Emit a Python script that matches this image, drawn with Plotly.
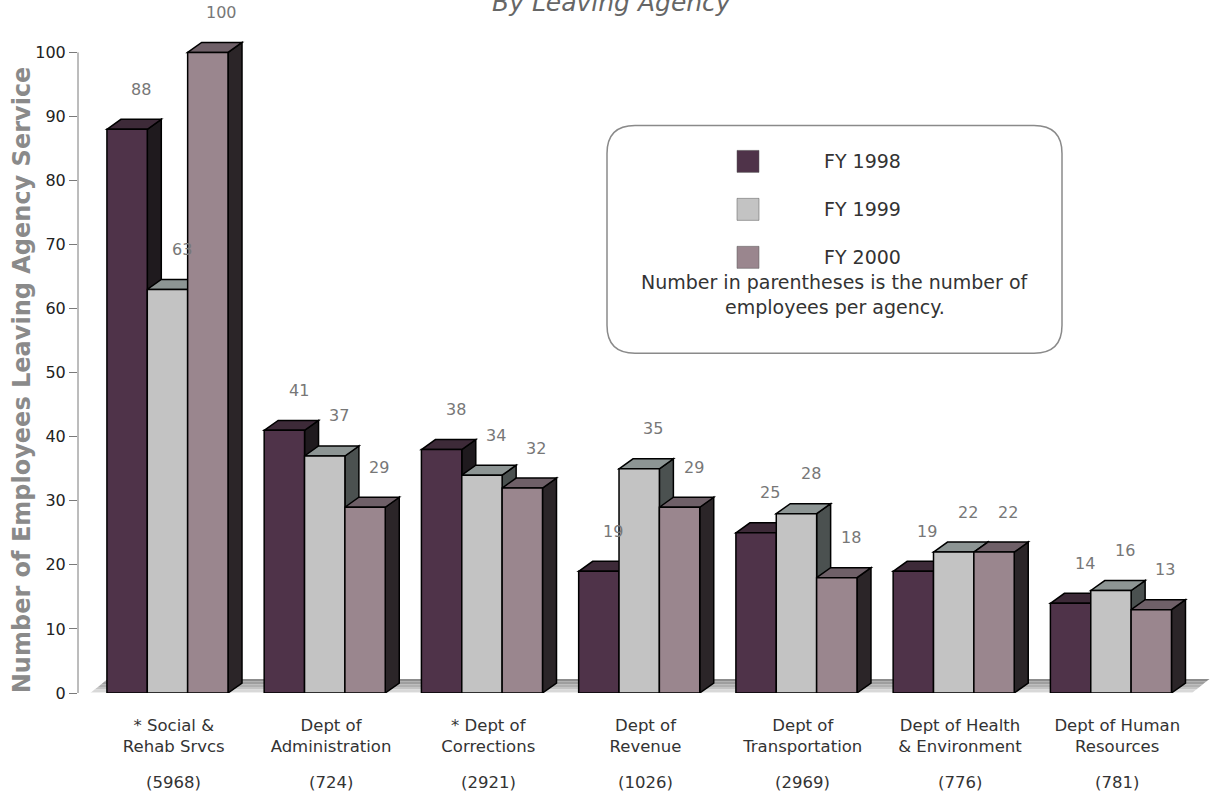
import plotly.graph_objects as go

# ---------------- data ----------------
agencies = ["* Social &<br>Rehab Srvcs", "Dept of<br>Administration", "* Dept of<br>Corrections",
            "Dept of<br>Revenue", "Dept of<br>Transportation", "Dept of Health<br>& Environment",
            "Dept of Human<br>Resources"]
employees = ["(5968)", "(724)", "(2921)", "(1026)", "(2969)", "(776)", "(781)"]
series_names = ["FY 1998", "FY 1999", "FY 2000"]
fy1998 = [88, 41, 38, 19, 25, 19, 14]
fy1999 = [63, 37, 34, 35, 28, 22, 16]
fy2000 = [100, 29, 32, 29, 18, 22, 13]
y_ticks = list(range(0, 101, 10))

series = [fy1998, fy1999, fy2000]
front = ["#4f3349", "#c3c3c3", "#9a868e"]
side = ["#1f1a1e", "#4b5150", "#2b2528"]
top = ["#3d2a38", "#8d9594", "#6f6068"]

# ---------------- geometry ----------------
W_PX, H_PX = 1216, 796
PL, PR, PT, PB = 78, 1210, 13.5, 693
X_RANGE = [-0.569, 6.63]
Y_RANGE = [0, 106]
bargap = 0.23
w = (1 - bargap) / 3
px_per_x = (PR - PL) / (X_RANGE[1] - X_RANGE[0])
px_per_y = (PB - PT) / (Y_RANGE[1] - Y_RANGE[0])
dx = 14 / px_per_x
dy = 10 / px_per_y


def px(xp):
    return (xp - PL) / (PR - PL)


def py(yp):
    return (PB - yp) / (PB - PT)


xs = list(range(len(agencies)))
label_x = [x + 0.04 for x in xs]
fig = go.Figure()
shapes = []

# floor (gradient bands)
floor_x0 = -0.506
floor_x1 = 6.5
fdx = 20 / px_per_x
fdy = 16 / px_per_y
grays = ["#8c8c8c", "#9e9e9e", "#b0b0b0", "#c4c4c4", "#d8d8d8", "#ebebeb"]
nb = len(grays)
for i, g in enumerate(grays):
    t0 = 1 - i / nb
    t1 = 1 - (i + 1) / nb
    xa0 = floor_x0 + fdx * t1
    xa1 = floor_x0 + fdx * t0
    xb0 = floor_x1 + fdx * t1
    xb1 = floor_x1 + fdx * t0
    ya = fdy * t1 - 0.3
    yb = fdy * t0 - 0.3
    shapes.append(dict(type="path", xref="x", yref="y", layer="below",
                       path=f"M {xa0},{ya} L {xb0},{ya} L {xb1},{yb} L {xa1},{yb} Z",
                       fillcolor=g, line=dict(width=0)))

# 3D side & top faces for each bar, drawn group by group, left to right
for gi in xs:
    for k in range(3):
        v = series[k][gi]
        c = gi + (k - 1) * w
        xl, xr = c - w / 2, c + w / 2
        shapes.append(dict(type="path", xref="x", yref="y", layer="below",
                           path=f"M {xr},0 L {xr+dx},{dy} L {xr+dx},{v+dy} L {xr},{v} Z",
                           fillcolor=side[k], line=dict(color="#000000", width=1.5)))
        shapes.append(dict(type="path", xref="x", yref="y", layer="below",
                           path=f"M {xl},{v} L {xl+dx},{v+dy} L {xr+dx},{v+dy} L {xr},{v} Z",
                           fillcolor=top[k], line=dict(color="#000000", width=1.5)))

# front faces
for k in range(3):
    fig.add_trace(go.Bar(x=xs, y=series[k], name=series_names[k], marker_color=front[k],
                         marker_line=dict(color="#000000", width=1.5), showlegend=False,
                         hoverinfo="skip"))

annotations = []
# value labels
for gi in xs:
    for k in range(3):
        v = series[k][gi]
        c = gi + (k - 1) * w
        annotations.append(dict(x=c + 0.09, y=v, xref="x", yref="y", text=str(v),
                                showarrow=False, yshift=40, yanchor="middle",
                                font=dict(family="DejaVu Sans", size=16, color="#777777")))

# employee counts under the category labels
for gi in xs:
    annotations.append(dict(x=label_x[gi], y=py(783), xref="x", yref="paper",
                            text=employees[gi], showarrow=False, yanchor="middle",
                            font=dict(family="DejaVu Sans", size=16.5, color="#333333")))

# y axis line (0..100)
shapes.append(dict(type="line", xref="paper", yref="y", x0=0, x1=0, y0=0, y1=100,
                   line=dict(color="#7a7a7a", width=1)))

# legend box
lx0, lx1, ly0, ly1, r = 607, 1062, 125, 353, 28
path = (f"M {px(lx0+r)},{py(ly0)} L {px(lx1-r)},{py(ly0)} Q {px(lx1)},{py(ly0)} {px(lx1)},{py(ly0+r)} "
        f"L {px(lx1)},{py(ly1-r)} Q {px(lx1)},{py(ly1)} {px(lx1-r)},{py(ly1)} "
        f"L {px(lx0+r)},{py(ly1)} Q {px(lx0)},{py(ly1)} {px(lx0)},{py(ly1-r)} "
        f"L {px(lx0)},{py(ly0+r)} Q {px(lx0)},{py(ly0)} {px(lx0+r)},{py(ly0)} Z")
shapes.append(dict(type="path", xref="paper", yref="paper", path=path, fillcolor="white",
                   line=dict(color="#8a8a8a", width=1.5), layer="above"))
leg_y = [161, 209, 257]
for k in range(3):
    shapes.append(dict(type="rect", xref="paper", yref="paper",
                       x0=px(737), x1=px(759), y0=py(leg_y[k] - 11), y1=py(leg_y[k] + 11),
                       fillcolor=front[k], line=dict(color="#555555", width=0.5), layer="above"))
    annotations.append(dict(x=px(822), y=py(leg_y[k]), xref="paper", yref="paper",
                            text=series_names[k], showarrow=False, xanchor="left", yanchor="middle",
                            font=dict(family="DejaVu Sans", size=19, color="#333333")))
annotations.append(dict(x=px(835), y=py(282), xref="paper", yref="paper",
                        text="Number in parentheses is the number of", showarrow=False,
                        xanchor="center", yanchor="middle",
                        font=dict(family="DejaVu Sans", size=19, color="#333333")))
annotations.append(dict(x=px(835), y=py(307), xref="paper", yref="paper",
                        text="employees per agency.", showarrow=False,
                        xanchor="center", yanchor="middle",
                        font=dict(family="DejaVu Sans", size=19, color="#333333")))

# y axis title
annotations.append(dict(x=px(22), y=py(380), xref="paper", yref="paper",
                        text="<b>Number of Employees Leaving Agency Service</b>", textangle=-90,
                        showarrow=False, xanchor="center", yanchor="middle",
                        font=dict(family="DejaVu Sans", size=24, color="#8a8a8a")))
# partially visible subtitle at top (its upper part lies outside the page, as in the reference)
annotations.append(dict(x=px(612), y=py(2), xref="paper", yref="paper",
                        text="<i>By Leaving Agency</i>", showarrow=False,
                        xanchor="center", yanchor="middle",
                        font=dict(family="DejaVu Sans", size=25, color="#666666")))

fig.update_layout(
    width=W_PX, height=H_PX,
    margin=dict(l=PL, r=W_PX - PR, t=PT, b=H_PX - PB, autoexpand=False),
    paper_bgcolor="white", plot_bgcolor="white",
    barmode="group", bargap=bargap, bargroupgap=0,
    shapes=shapes, annotations=annotations,
    xaxis=dict(range=X_RANGE, tickvals=label_x, ticktext=agencies,
               showgrid=False, zeroline=False, showline=False, ticks="",
               ticklabelstandoff=20,
               tickfont=dict(family="DejaVu Sans", size=16.5, color="#333333")),
    yaxis=dict(range=Y_RANGE, tickvals=y_ticks, showgrid=False, zeroline=False,
               showline=False, ticks="outside", ticklen=8, tickcolor="#7a7a7a",
               tickfont=dict(family="DejaVu Sans", size=16, color="#222222")),
    font=dict(family="DejaVu Sans"),
)

fig.write_html("out.html")
